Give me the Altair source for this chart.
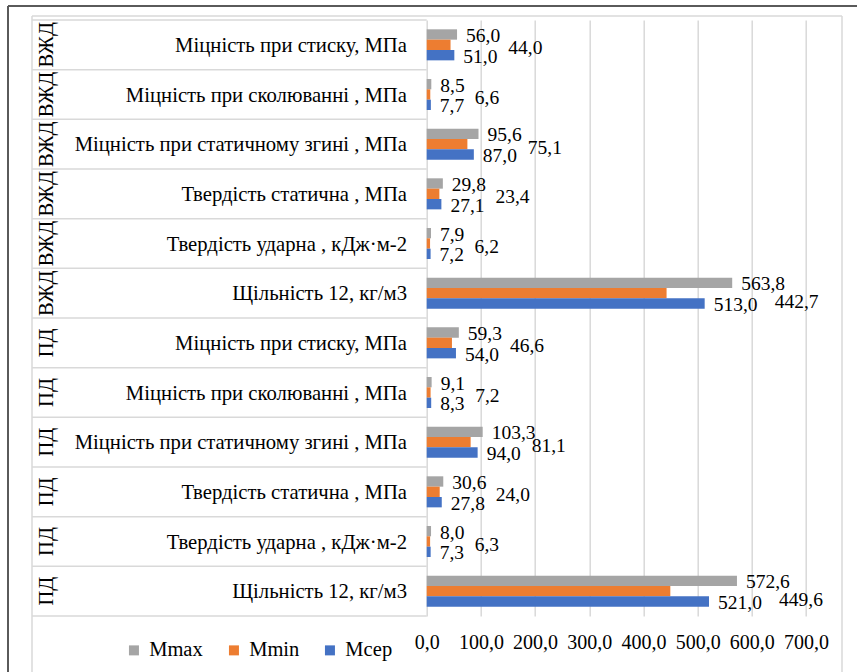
import altair as alt
import pandas as pd

FONT = "Liberation Serif, DejaVu Serif, serif"

groups = ["ВЖД"] * 6 + ["ПД"] * 6
prop_names = [
    "Міцність при стиску, МПа",
    "Міцність при сколюванні , МПа",
    "Міцність при статичному  згині , МПа",
    "Твердість статична , МПа",
    "Твердість ударна  , кДж·м-2",
    "Щільність  12, кг/м3",
]
properties = prop_names * 2
m_max = [56.0, 8.5, 95.6, 29.8, 7.9, 563.8, 59.3, 9.1, 103.3, 30.6, 8.0, 572.6]
m_min = [44.0, 6.6, 75.1, 23.4, 6.2, 442.7, 46.6, 7.2, 81.1, 24.0, 6.3, 449.6]
m_avg = [51.0, 7.7, 87.0, 27.1, 7.2, 513.0, 54.0, 8.3, 94.0, 27.8, 7.3, 521.0]
series_names = ["Mmax", "Mmin", "Mсер"]
series_colors = ["#A5A5A5", "#ED7D31", "#4472C4"]
x_ticks = [0, 100, 200, 300, 400, 500, 600, 700]


def fmt(v):
    return f"{v:.1f}".replace(".", ",")


row_keys = [f"r{i:02d}" for i in range(len(groups))]
rows_df = pd.DataFrame({"row": row_keys, "group": groups, "prop": properties})

recs = []
for i, key in enumerate(row_keys):
    for s, vals in zip(series_names, [m_max, m_min, m_avg]):
        recs.append({
            "row": key,
            "series": s,
            "value": vals[i],
            "label": fmt(vals[i]),
            "anchor": m_avg[i],
            "alen": len(fmt(m_avg[i])),
        })
df = pd.DataFrame(recs)
dummy = pd.DataFrame({"a": [0]})

W, H = 379.3, 596
y_enc = alt.Y("row:N", sort=row_keys, axis=None,
              scale=alt.Scale(domain=row_keys, paddingInner=0, paddingOuter=0))
yoff_enc = alt.YOffset("series:N", sort=series_names,
                       scale=alt.Scale(domain=series_names, paddingInner=0, paddingOuter=0.9))

LIGHT = "#D9D9D9"
DARK = "#5A5A5A"

frame = [
    alt.Chart(dummy).mark_rule(color=DARK, strokeWidth=2).encode(
        x=alt.value(-418.7), x2=alt.value(440), y=alt.value(-14)),
    alt.Chart(dummy).mark_rule(color=DARK, strokeWidth=2).encode(
        x=alt.value(-418.7), y=alt.value(-14), y2=alt.value(660)),
    alt.Chart(dummy).mark_rule(color=LIGHT, strokeWidth=1.5).encode(
        x=alt.value(-394.7), x2=alt.value(415.3), y=alt.value(-4)),
    alt.Chart(dummy).mark_rule(color=LIGHT, strokeWidth=1.5).encode(
        x=alt.value(-394.7), y=alt.value(-4), y2=alt.value(660)),
    alt.Chart(dummy).mark_rule(color=LIGHT, strokeWidth=1.5).encode(
        x=alt.value(415.3), y=alt.value(-4), y2=alt.value(660)),
    alt.Chart(dummy).mark_rule(color=LIGHT, strokeWidth=1.5).encode(
        x=alt.value(-394.7), x2=alt.value(0), y=alt.value(H)),
]

row_lines = alt.Chart(rows_df).mark_rule(color=LIGHT, strokeWidth=1.5).encode(
    y=alt.Y("row:N", sort=row_keys, axis=None, bandPosition=0,
            scale=alt.Scale(domain=row_keys, paddingInner=0, paddingOuter=0)),
    x=alt.value(-394.7), x2=alt.value(0),
)

group_text = alt.Chart(rows_df).mark_text(
    font=FONT, fontSize=20.5, angle=270, align="center", baseline="middle", color="#000"
).encode(y=y_enc, x=alt.value(-380), text="group:N")

prop_text = alt.Chart(rows_df).mark_text(
    font=FONT, fontSize=20.7, align="right", baseline="middle", color="#000", dy=1
).encode(y=y_enc, x=alt.value(-19.7), text="prop:N")

bars = alt.Chart(df).mark_bar().encode(
    x=alt.X("value:Q", scale=alt.Scale(domain=[0, 700], nice=False, zero=True),
            axis=alt.Axis(values=x_ticks, title=None, grid=True, gridColor=LIGHT, gridWidth=1.5,
                          domain=False, ticks=False, labelPadding=16, labelFont=FONT,
                          labelFontSize=20, labelColor="#000", labelOverlap=False,
                          labelFlush=False,
                          labelExpr="replace(format(datum.value, '.1f'), '.', ',')")),
    y=y_enc,
    yOffset=yoff_enc,
    color=alt.Color("series:N", sort=series_names,
                    scale=alt.Scale(domain=series_names, range=series_colors),
                    legend=alt.Legend(orient="none", legendX=-303, legendY=620,
                                      direction="horizontal", title=None, labelFont=FONT,
                                      labelFontSize=20.5, labelColor="#000", symbolType="square",
                                      symbolSize=100, symbolStrokeWidth=0, labelOffset=5,
                                      columnPadding=20, padding=0)),
)

side_labels = alt.Chart(df).transform_filter(
    alt.FieldOneOfPredicate(field="series", oneOf=["Mmax", "Mсер"])
).mark_text(font=FONT, fontSize=19.5, align="left", baseline="middle", dx=9, dy=1.5,
            color="#000").encode(
    x="value:Q", y=y_enc, yOffset=yoff_enc, text="label:N")

min_layers = []
for L, dxv, dyv in [(3, 44, 3.5), (4, 54, 3.5), (5, 70, 8.5)]:
    min_layers.append(
        alt.Chart(df).transform_filter(
            (alt.datum.series == "Mmin") & (alt.datum.alen == L)
        ).mark_text(font=FONT, fontSize=19.5, align="left", baseline="middle", dx=dxv, dy=dyv,
                    color="#000").encode(
            x="anchor:Q", y=y_enc, yOffset=yoff_enc, text="label:N")
    )

chart = alt.layer(*frame, row_lines, group_text, prop_text, bars, side_labels, *min_layers).properties(
    width=W, height=H,
    autosize=alt.AutoSizeParams(type="none"),
    padding={"left": 426.7, "top": 20, "right": 51, "bottom": 56},
).configure_view(stroke=None)

chart.save("out.html", embed_options={"renderer": "svg", "actions": False})
